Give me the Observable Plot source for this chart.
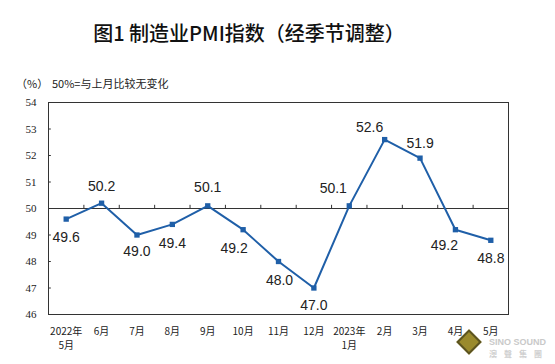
<!DOCTYPE html>
<html>
<head>
<meta charset="utf-8">
<script src="https://cdn.jsdelivr.net/npm/d3@7"></script>
<script src="https://cdn.jsdelivr.net/npm/@observablehq/plot@0.6"></script>
<style>
  html, body { margin: 0; padding: 0; background: #fff; }
  #wrap { position: relative; width: 555px; height: 364px; overflow: hidden; font-family: "Noto Sans CJK SC", sans-serif; }
  #title { position: absolute; left: 0; width: 498px; top: 20px; text-align: center; font-size: 20px; font-weight: 500; color: #111; line-height: 26px; }
  #unit { position: absolute; left: 16px; top: 75px; font-size: 11px; color: #222; }
  #note { position: absolute; left: 52px; top: 75px; font-size: 11px; color: #222; }
  #chart { position: absolute; left: 0; top: 0; }
  #wm { position: absolute; left: 458px; top: 337px; width: 97px; height: 27px; white-space: nowrap; }
  #wm .d { position: absolute; left: 2px; top: -4px; width: 14px; height: 14px; transform: rotate(45deg); background: #9a8a2c; border: 2px solid #5b5320; }
  #wm .t1 { position: absolute; left: 31px; top: 0px; font: bold 9px "Liberation Sans", sans-serif; color: #c9c9c9; line-height: 10px; }
  #wm .t2 { position: absolute; left: 31px; top: 12px; font: bold 8px "Noto Sans CJK TC", sans-serif; color: #cfcfcf; letter-spacing: 7px; line-height: 10px; }
</style>
</head>
<body>
<div id="wrap">
  <div id="chart"></div>
  <div id="title">图1 制造业PMI指数（经季节调整）</div>
  <div id="unit">（%）</div>
  <div id="note">50%=与上月比较无变化</div>
  <div id="wm"><div class="d"></div><div class="t1">SINO SOUND</div><div class="t2">澳聲集團</div></div>
</div>
<script>
// Data
const months = ["2022年\n5月", "6月", "7月", "8月", "9月", "10月", "11月", "12月", "2023年\n1月", "2月", "3月", "4月", "5月"];
const pmi = [49.6, 50.2, 49.0, 49.4, 50.1, 49.2, 48.0, 47.0, 50.1, 52.6, 51.9, 49.2, 48.8];
const yTicks = [46, 47, 48, 49, 50, 51, 52, 53, 54];
// label placement offsets in px [dx, dy] (layout only)
const labelOffsets = [[0,18],[0,-17],[0,17],[0,19],[0,-18],[-9,19],[1,19],[0,18],[-16,-17],[-15,-12],[0,-15],[-11,16],[0,18]];

const data = pmi.map((v, i) => ({i, v, label: v.toFixed(1)}));
const idx = months.map((_, i) => i);
const boundaries = idx.slice(0, -1).map(i => i + 0.5);

const blue = "#1f5fa8";
const labelMarks = data.map((d, k) => Plot.text([d], {
  x: "i", y: "v", text: "label",
  dx: labelOffsets[k][0], dy: labelOffsets[k][1],
  fontSize: 14, fill: "#222", fontFamily: "Liberation Sans, Arial, sans-serif"
}));

const chart = Plot.plot({
  width: 555,
  height: 364,
  marginTop: 102,
  marginBottom: 50,
  marginLeft: 48,
  marginRight: 47,
  style: {fontFamily: "Noto Sans CJK SC, sans-serif", background: "transparent"},
  x: {domain: [-0.5, 12.5]},
  y: {domain: [46, 54]},
  marks: [
    Plot.axisX({ticks: idx, tickFormat: i => months[i], tickSize: 0, tickPadding: 11, fontSize: 10, fill: "#222", lineHeight: 1.4, label: null}),
    Plot.axisY({ticks: yTicks, tickSize: 0, tickPadding: 12, fontSize: 11, fill: "#222", fontFamily: "Liberation Serif, serif", label: null}),
    Plot.ruleY(yTicks, {y: d => d, x1: -0.5, x2: -0.42, stroke: "#333"}),
    Plot.ruleY([50], {stroke: "#333", strokeWidth: 1}),
    Plot.ruleX(boundaries, {x: d => d, y1: 50, y2: 50.12, stroke: "#333"}),
    Plot.frame({stroke: "#333", strokeWidth: 1}),
    Plot.line(data, {x: "i", y: "v", stroke: blue, strokeWidth: 2}),
    Plot.dot(data, {x: "i", y: "v", symbol: "square", r: 3, fill: blue, stroke: "none"}),
    ...labelMarks
  ]
});
document.getElementById("chart").appendChild(chart);
</script>
</body>
</html>
